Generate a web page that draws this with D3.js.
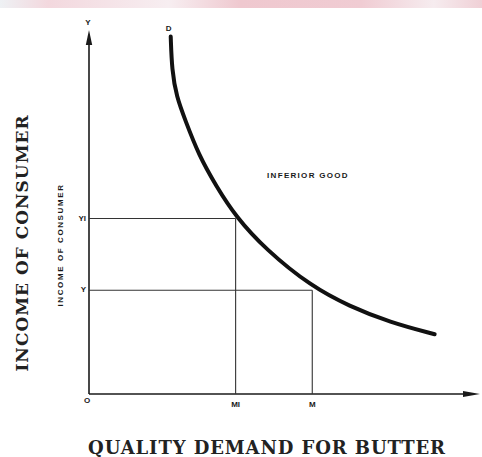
<!DOCTYPE html>
<html>
<head>
<meta charset="utf-8">
<script src="https://cdnjs.cloudflare.com/ajax/libs/d3/7.8.5/d3.min.js"></script>
<style>
body { margin: 0; background: #fff; }
svg { display: block; }
</style>
</head>
<body>
<svg width="482" height="457"></svg>
<script>
// demand curve D (quantity, income)
var curveQty    = [20.9, 21.2, 22.4, 24.6, 28.0, 32.6, 37.5, 45.2, 56.8, 66.6, 76.9, 88.4];
var curveIncome = [98.2, 89.0, 81.6, 75.3, 65.8, 57.0, 48.8, 39.7, 29.6, 24.1, 19.7, 16.4];

// the two income levels and the quantities demanded at them
var levelNames  = ["YI", "Y"];
var levelIncome = [48.2, 28.5];
var levelQtyNames = ["MI", "M"];
var levelQty      = [37.5, 57.1];

var svg = d3.select("svg");

// top watermark band
var defs = svg.append("defs");
var grad = defs.append("linearGradient").attr("id", "band");
grad.append("stop").attr("offset", "0%").attr("stop-color", "#eef1f4");
grad.append("stop").attr("offset", "10%").attr("stop-color", "#f3d8de");
grad.append("stop").attr("offset", "35%").attr("stop-color", "#f7eef1");
grad.append("stop").attr("offset", "50%").attr("stop-color", "#efc8cf");
grad.append("stop").attr("offset", "75%").attr("stop-color", "#f0ccd3");
grad.append("stop").attr("offset", "90%").attr("stop-color", "#f6ecef");
grad.append("stop").attr("offset", "100%").attr("stop-color", "#f0d0d6");
svg.append("rect").attr("x", 0).attr("y", 0).attr("width", 482).attr("height", 8)
    .attr("fill", "url(#band)");

var x = d3.scaleLinear().domain([0, 100]).range([89, 480]);
var y = d3.scaleLinear().domain([0, 100]).range([394, 30]);

var ink = "#1a1a1a";

// axes
svg.append("line")
    .attr("x1", x(0)).attr("y1", y(0)).attr("x2", x(0)).attr("y2", y(100) + 12)
    .attr("stroke", ink).attr("stroke-width", 1.6);
svg.append("line")
    .attr("x1", x(0)).attr("y1", y(0)).attr("x2", x(100) - 14).attr("y2", y(0))
    .attr("stroke", ink).attr("stroke-width", 1.6);

// arrow heads
svg.append("path")
    .attr("d", "M" + x(0) + "," + y(100) + " L" + (x(0) - 3.2) + "," + (y(100) + 15) +
        " L" + (x(0) + 3.2) + "," + (y(100) + 15) + " Z")
    .attr("fill", ink);
svg.append("path")
    .attr("d", "M" + x(100) + "," + y(0) + " L" + (x(100) - 17) + "," + (y(0) - 3) +
        " L" + (x(100) - 17) + "," + (y(0) + 3) + " Z")
    .attr("fill", ink);

// guide lines
levelIncome.forEach(function(v, i)
{
    svg.append("line")
        .attr("x1", x(0)).attr("x2", x(levelQty[i]))
        .attr("y1", y(v)).attr("y2", y(v))
        .attr("stroke", "#333").attr("stroke-width", 1.1);
    svg.append("line")
        .attr("x1", x(levelQty[i])).attr("x2", x(levelQty[i]))
        .attr("y1", y(0)).attr("y2", y(v))
        .attr("stroke", "#333").attr("stroke-width", 1.1);
});

// demand curve
var pts = curveQty.map(function(q, i) { return [q, curveIncome[i]]; });
var line = d3.line()
    .x(function(d) { return x(d[0]); })
    .y(function(d) { return y(d[1]); })
    .curve(d3.curveBasis);
svg.append("path")
    .datum(pts)
    .attr("d", line)
    .attr("fill", "none")
    .attr("stroke", "#111")
    .attr("stroke-width", 4)
    .attr("stroke-linecap", "round");

// small labels
var small = "font-family: 'Liberation Sans', Arial, sans-serif; font-weight: bold; font-size: 8px;";

function label(txt, px, py, anchor)
{
    svg.append("text")
        .attr("x", px).attr("y", py)
        .attr("text-anchor", anchor || "middle")
        .attr("dominant-baseline", "middle")
        .attr("style", small)
        .attr("fill", ink)
        .text(txt);
}

label("Y", x(0) - 1, 23);
label("D", x(curveQty[0]) - 2, 29);
label("O", x(0) - 2, 401);
levelNames.forEach(function(n, i) { label(n, x(0) - 3, y(levelIncome[i]), "end"); });
levelQtyNames.forEach(function(n, i) { label(n, x(levelQty[i]), 405); });

svg.append("text")
    .attr("x", 308).attr("y", 176)
    .attr("text-anchor", "middle")
    .attr("dominant-baseline", "middle")
    .attr("style", small + " letter-spacing: 1.3px;")
    .attr("fill", ink)
    .text("INFERIOR GOOD");

// small rotated axis label
svg.append("text")
    .attr("transform", "translate(61,245) rotate(-90)")
    .attr("text-anchor", "middle")
    .attr("dominant-baseline", "middle")
    .attr("style", small + " letter-spacing: 1.6px;")
    .attr("fill", ink)
    .text("INCOME OF CONSUMER");

// big titles
var big = "font-family: 'DejaVu Serif', 'Liberation Serif', serif; font-weight: bold;";

svg.append("text")
    .attr("transform", "translate(23,243) rotate(-90)")
    .attr("text-anchor", "middle")
    .attr("dominant-baseline", "middle")
    .attr("style", big + " font-size: 17px; letter-spacing: 1px;")
    .attr("fill", "#222")
    .text("INCOME OF CONSUMER");

svg.append("text")
    .attr("x", 267).attr("y", 449)
    .attr("text-anchor", "middle")
    .attr("dominant-baseline", "middle")
    .attr("style", big + " font-size: 18px; letter-spacing: 0.9px;")
    .attr("fill", "#222")
    .text("QUALITY DEMAND FOR BUTTER");
</script>
</body>
</html>
